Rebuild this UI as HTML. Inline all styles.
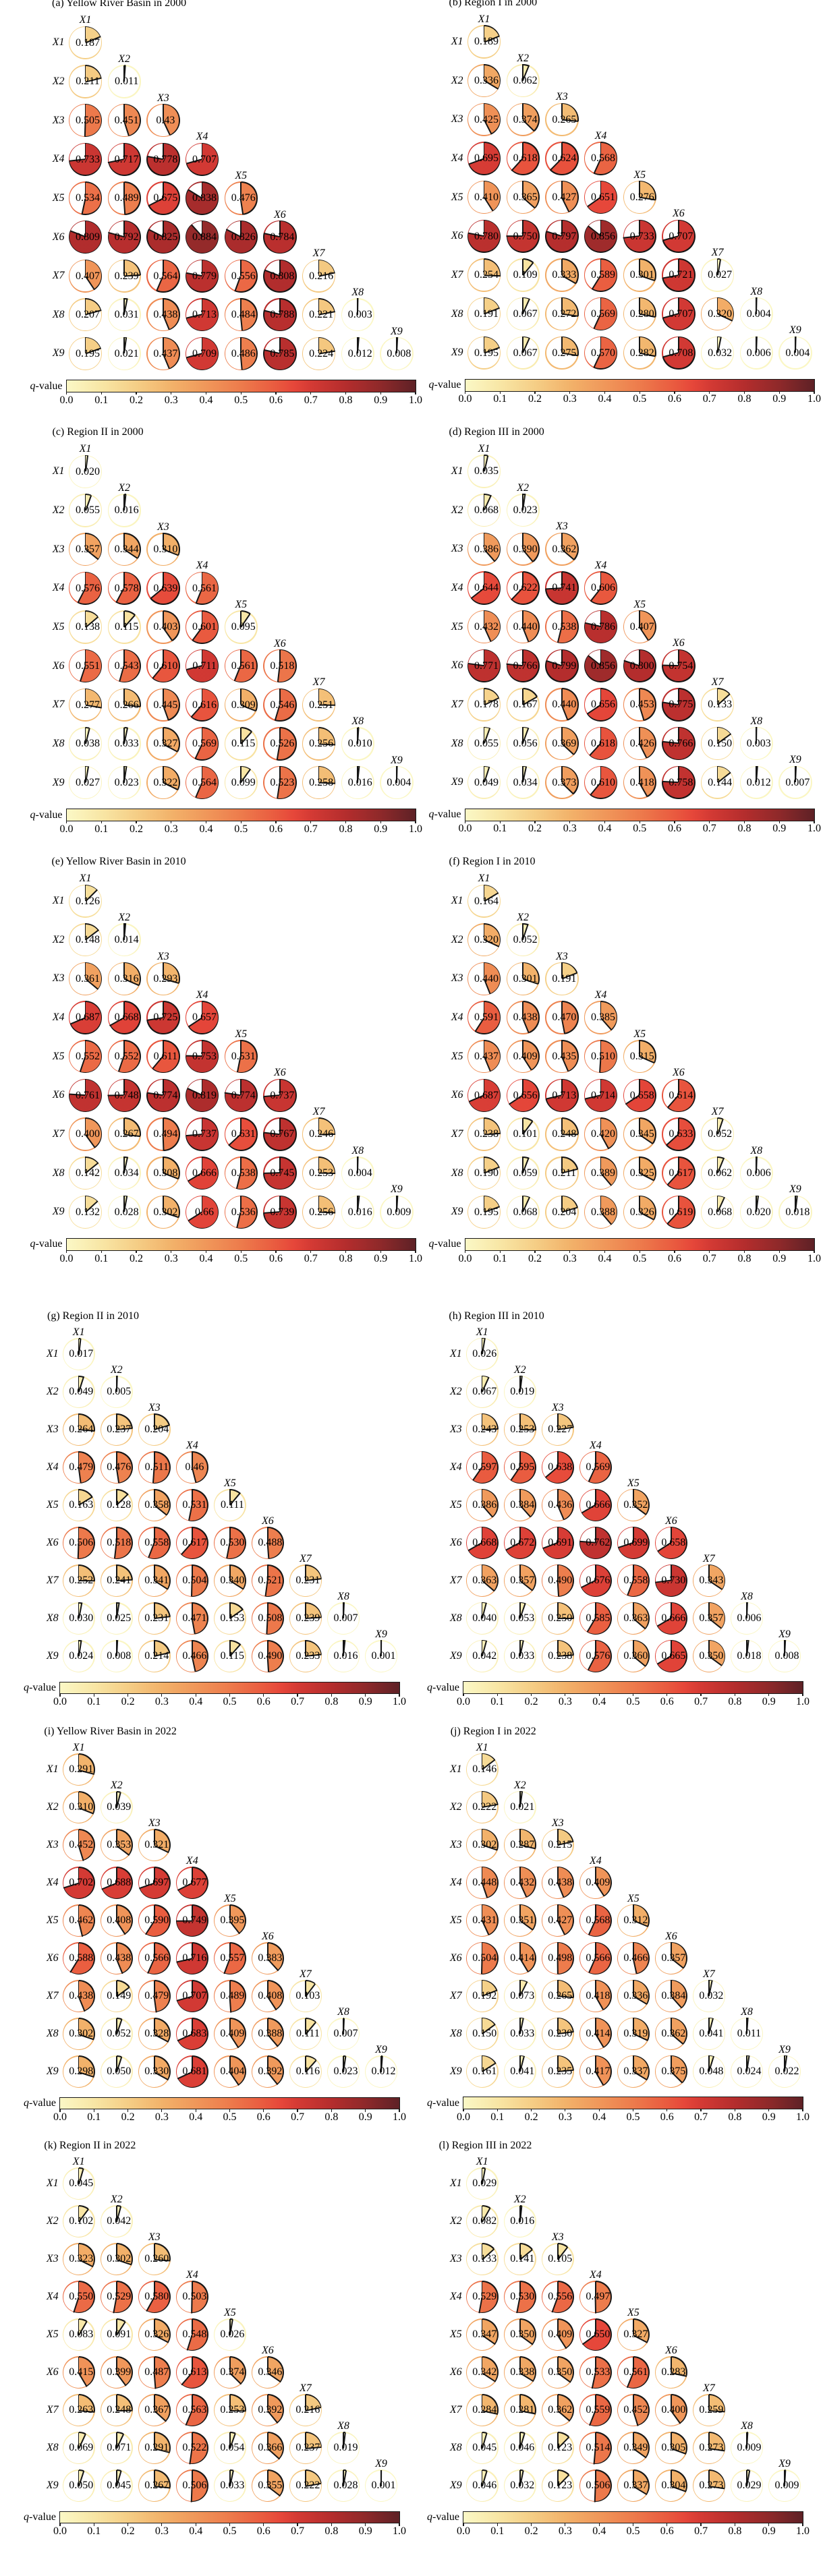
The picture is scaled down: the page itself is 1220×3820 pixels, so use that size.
<!DOCTYPE html>
<html><head><meta charset="utf-8"><title>q-value interaction matrices</title>
<style>
*{margin:0;padding:0}
html,body{width:1220px;height:3820px;background:#fff;overflow:hidden}
body{position:relative;font-family:"Liberation Serif","DejaVu Serif",serif;font-size:16px;color:#000;
--cm:linear-gradient(90deg,#fbf8c6 0%,#f8e6a5 10%,#f5ce86 20%,#f2b26a 30%,#f0975a 40%,#ed7b4c 50%,#e95a3f 60%,#e6473a 65%,#d43a34 70%,#b42d2d 80%,#8e292a 90%,#5e2126 100%)}
.p{position:absolute;width:0;height:0}
.T{--x0:126.5px;--dx:57.68px;--dy:57.65px;--r:24.65px;--lx:86.6px;--cbl:97.5px;--cbw:519.5px;--cbt:500px;--cbh:18.5px}
.B{--x0:116.7px;--dx:56.04px;--dy:56px;--r:24.1px;--lx:77.8px;--cbl:88px;--cbw:505px;--cbt:485.3px;--cbh:18.4px}
.t{position:absolute;top:-67px;line-height:18px;white-space:nowrap}
.B .t{top:-65.4px}
.rl{position:absolute;left:calc(var(--lx) - 15px);width:30px;text-align:center;top:calc(var(--i)*var(--dy) - 9px);line-height:18px;font-style:italic}
.c{position:absolute;left:calc(var(--x0) + var(--j)*var(--dx) - var(--r));top:calc(var(--i)*var(--dy) - var(--r));width:calc(2*var(--r));height:calc(2*var(--r));border-radius:50%;--a:calc(var(--v)*360deg);background:conic-gradient(#151515 0 var(--a),transparent 0),var(--cm);background-size:100% 100%,40000% 100%;background-position:0 0,calc(var(--v)*100%) 0;background-repeat:no-repeat}
.c::before{content:"";position:absolute;left:1.5px;top:1.5px;right:1.5px;bottom:1.5px;border-radius:50%;background:conic-gradient(transparent 0 var(--a),#fff 0),var(--cm);background-size:100% 100%,40000% 100%;background-position:0 0,calc(var(--v)*100%) 0;background-repeat:no-repeat}
.c::after{content:"";position:absolute;left:calc(50% - .8px);top:.3px;width:1.6px;height:calc(50% - .3px);background:#151515}
.c i{position:absolute;left:calc(50% - .8px);top:.3px;width:1.6px;height:calc(50% - .3px);background:#151515;transform-origin:50% 100%;transform:rotate(var(--a))}
.c span{position:absolute;left:3.5px;top:0;width:100%;text-align:center;line-height:calc(2*var(--r));z-index:2;white-space:nowrap}
.c em{position:absolute;left:0;width:100%;top:-17.3px;line-height:18px;text-align:center;font-style:italic}
.r>div:nth-of-type(1){--j:0}.r>div:nth-of-type(2){--j:1}.r>div:nth-of-type(3){--j:2}.r>div:nth-of-type(4){--j:3}.r>div:nth-of-type(5){--j:4}.r>div:nth-of-type(6){--j:5}.r>div:nth-of-type(7){--j:6}.r>div:nth-of-type(8){--j:7}.r>div:nth-of-type(9){--j:8}
.cb{position:absolute;left:var(--cbl);top:var(--cbt);width:var(--cbw);height:var(--cbh);box-sizing:border-box;border:1.4px solid #1a1a1a;background:var(--cm)}
.cb u{position:absolute;top:20.4px;width:40px;margin-left:-20px;left:calc(var(--k)*10%);text-align:center;line-height:18px;text-decoration:none}
.cb u::before{content:"";position:absolute;left:calc(50% - .6px);top:calc(var(--cbh) - 21.8px);width:1.2px;height:4px;background:#1a1a1a}
.cb u:nth-of-type(1){--k:0}.cb u:nth-of-type(2){--k:1}.cb u:nth-of-type(3){--k:2}.cb u:nth-of-type(4){--k:3}.cb u:nth-of-type(5){--k:4}.cb u:nth-of-type(6){--k:5}.cb u:nth-of-type(7){--k:6}.cb u:nth-of-type(8){--k:7}.cb u:nth-of-type(9){--k:8}.cb u:nth-of-type(10){--k:9}.cb u:nth-of-type(11){--k:10}
.ql{position:absolute;left:calc(var(--cbl) - 55px);width:50px;text-align:right;top:calc(var(--cbt) + var(--cbh)/2 - 9px);line-height:18px;white-space:nowrap}
</style></head><body>

<!-- (a) -->
<div class="p T" style="left:0;top:63.3px">
<div class="t" style="left:77px">(a) Yellow River Basin in 2000</div>
<div class="r" style="--i:0"><em class="rl">X1</em><div class="c" style="--v:.187"><i></i><span>0.187</span><em>X1</em></div></div>
<div class="r" style="--i:1"><em class="rl">X2</em><div class="c" style="--v:.211"><i></i><span>0.211</span></div><div class="c" style="--v:.011"><i></i><span>0.011</span><em>X2</em></div></div>
<div class="r" style="--i:2"><em class="rl">X3</em><div class="c" style="--v:.505"><i></i><span>0.505</span></div><div class="c" style="--v:.451"><i></i><span>0.451</span></div><div class="c" style="--v:.43"><i></i><span>0.43</span><em>X3</em></div></div>
<div class="r" style="--i:3"><em class="rl">X4</em><div class="c" style="--v:.733"><i></i><span>0.733</span></div><div class="c" style="--v:.717"><i></i><span>0.717</span></div><div class="c" style="--v:.778"><i></i><span>0.778</span></div><div class="c" style="--v:.707"><i></i><span>0.707</span><em>X4</em></div></div>
<div class="r" style="--i:4"><em class="rl">X5</em><div class="c" style="--v:.534"><i></i><span>0.534</span></div><div class="c" style="--v:.489"><i></i><span>0.489</span></div><div class="c" style="--v:.675"><i></i><span>0.675</span></div><div class="c" style="--v:.838"><i></i><span>0.838</span></div><div class="c" style="--v:.476"><i></i><span>0.476</span><em>X5</em></div></div>
<div class="r" style="--i:5"><em class="rl">X6</em><div class="c" style="--v:.809"><i></i><span>0.809</span></div><div class="c" style="--v:.792"><i></i><span>0.792</span></div><div class="c" style="--v:.825"><i></i><span>0.825</span></div><div class="c" style="--v:.884"><i></i><span>0.884</span></div><div class="c" style="--v:.826"><i></i><span>0.826</span></div><div class="c" style="--v:.784"><i></i><span>0.784</span><em>X6</em></div></div>
<div class="r" style="--i:6"><em class="rl">X7</em><div class="c" style="--v:.407"><i></i><span>0.407</span></div><div class="c" style="--v:.239"><i></i><span>0.239</span></div><div class="c" style="--v:.564"><i></i><span>0.564</span></div><div class="c" style="--v:.779"><i></i><span>0.779</span></div><div class="c" style="--v:.556"><i></i><span>0.556</span></div><div class="c" style="--v:.808"><i></i><span>0.808</span></div><div class="c" style="--v:.216"><i></i><span>0.216</span><em>X7</em></div></div>
<div class="r" style="--i:7"><em class="rl">X8</em><div class="c" style="--v:.207"><i></i><span>0.207</span></div><div class="c" style="--v:.031"><i></i><span>0.031</span></div><div class="c" style="--v:.438"><i></i><span>0.438</span></div><div class="c" style="--v:.713"><i></i><span>0.713</span></div><div class="c" style="--v:.484"><i></i><span>0.484</span></div><div class="c" style="--v:.788"><i></i><span>0.788</span></div><div class="c" style="--v:.221"><i></i><span>0.221</span></div><div class="c" style="--v:.003"><i></i><span>0.003</span><em>X8</em></div></div>
<div class="r" style="--i:8"><em class="rl">X9</em><div class="c" style="--v:.195"><i></i><span>0.195</span></div><div class="c" style="--v:.021"><i></i><span>0.021</span></div><div class="c" style="--v:.437"><i></i><span>0.437</span></div><div class="c" style="--v:.709"><i></i><span>0.709</span></div><div class="c" style="--v:.486"><i></i><span>0.486</span></div><div class="c" style="--v:.785"><i></i><span>0.785</span></div><div class="c" style="--v:.224"><i></i><span>0.224</span></div><div class="c" style="--v:.012"><i></i><span>0.012</span></div><div class="c" style="--v:.008"><i></i><span>0.008</span><em>X9</em></div></div>
<div class="ql"><i>q</i>-value</div>
<div class="cb"><u>0.0</u><u>0.1</u><u>0.2</u><u>0.3</u><u>0.4</u><u>0.5</u><u>0.6</u><u>0.7</u><u>0.8</u><u>0.9</u><u>1.0</u></div>
</div>

<!-- (b) -->
<div class="p T" style="left:591px;top:62px">
<div class="t" style="left:74.5px">(b) Region I in 2000</div>
<div class="r" style="--i:0"><em class="rl">X1</em><div class="c" style="--v:.189"><i></i><span>0.189</span><em>X1</em></div></div>
<div class="r" style="--i:1"><em class="rl">X2</em><div class="c" style="--v:.336"><i></i><span>0.336</span></div><div class="c" style="--v:.062"><i></i><span>0.062</span><em>X2</em></div></div>
<div class="r" style="--i:2"><em class="rl">X3</em><div class="c" style="--v:.425"><i></i><span>0.425</span></div><div class="c" style="--v:.374"><i></i><span>0.374</span></div><div class="c" style="--v:.265"><i></i><span>0.265</span><em>X3</em></div></div>
<div class="r" style="--i:3"><em class="rl">X4</em><div class="c" style="--v:.695"><i></i><span>0.695</span></div><div class="c" style="--v:.618"><i></i><span>0.618</span></div><div class="c" style="--v:.624"><i></i><span>0.624</span></div><div class="c" style="--v:.568"><i></i><span>0.568</span><em>X4</em></div></div>
<div class="r" style="--i:4"><em class="rl">X5</em><div class="c" style="--v:.410"><i></i><span>0.410</span></div><div class="c" style="--v:.365"><i></i><span>0.365</span></div><div class="c" style="--v:.427"><i></i><span>0.427</span></div><div class="c" style="--v:.651"><i></i><span>0.651</span></div><div class="c" style="--v:.276"><i></i><span>0.276</span><em>X5</em></div></div>
<div class="r" style="--i:5"><em class="rl">X6</em><div class="c" style="--v:.780"><i></i><span>0.780</span></div><div class="c" style="--v:.750"><i></i><span>0.750</span></div><div class="c" style="--v:.797"><i></i><span>0.797</span></div><div class="c" style="--v:.856"><i></i><span>0.856</span></div><div class="c" style="--v:.733"><i></i><span>0.733</span></div><div class="c" style="--v:.707"><i></i><span>0.707</span><em>X6</em></div></div>
<div class="r" style="--i:6"><em class="rl">X7</em><div class="c" style="--v:.254"><i></i><span>0.254</span></div><div class="c" style="--v:.109"><i></i><span>0.109</span></div><div class="c" style="--v:.333"><i></i><span>0.333</span></div><div class="c" style="--v:.589"><i></i><span>0.589</span></div><div class="c" style="--v:.301"><i></i><span>0.301</span></div><div class="c" style="--v:.721"><i></i><span>0.721</span></div><div class="c" style="--v:.027"><i></i><span>0.027</span><em>X7</em></div></div>
<div class="r" style="--i:7"><em class="rl">X8</em><div class="c" style="--v:.191"><i></i><span>0.191</span></div><div class="c" style="--v:.067"><i></i><span>0.067</span></div><div class="c" style="--v:.272"><i></i><span>0.272</span></div><div class="c" style="--v:.569"><i></i><span>0.569</span></div><div class="c" style="--v:.280"><i></i><span>0.280</span></div><div class="c" style="--v:.707"><i></i><span>0.707</span></div><div class="c" style="--v:.320"><i></i><span>0.320</span></div><div class="c" style="--v:.004"><i></i><span>0.004</span><em>X8</em></div></div>
<div class="r" style="--i:8"><em class="rl">X9</em><div class="c" style="--v:.195"><i></i><span>0.195</span></div><div class="c" style="--v:.067"><i></i><span>0.067</span></div><div class="c" style="--v:.275"><i></i><span>0.275</span></div><div class="c" style="--v:.570"><i></i><span>0.570</span></div><div class="c" style="--v:.282"><i></i><span>0.282</span></div><div class="c" style="--v:.708"><i></i><span>0.708</span></div><div class="c" style="--v:.032"><i></i><span>0.032</span></div><div class="c" style="--v:.006"><i></i><span>0.006</span></div><div class="c" style="--v:.004"><i></i><span>0.004</span><em>X9</em></div></div>
<div class="ql"><i>q</i>-value</div>
<div class="cb"><u>0.0</u><u>0.1</u><u>0.2</u><u>0.3</u><u>0.4</u><u>0.5</u><u>0.6</u><u>0.7</u><u>0.8</u><u>0.9</u><u>1.0</u></div>
</div>

<!-- (c) -->
<div class="p T" style="left:0;top:699.4px">
<div class="t" style="left:77.5px">(c) Region II in 2000</div>
<div class="r" style="--i:0"><em class="rl">X1</em><div class="c" style="--v:.020"><i></i><span>0.020</span><em>X1</em></div></div>
<div class="r" style="--i:1"><em class="rl">X2</em><div class="c" style="--v:.055"><i></i><span>0.055</span></div><div class="c" style="--v:.016"><i></i><span>0.016</span><em>X2</em></div></div>
<div class="r" style="--i:2"><em class="rl">X3</em><div class="c" style="--v:.357"><i></i><span>0.357</span></div><div class="c" style="--v:.344"><i></i><span>0.344</span></div><div class="c" style="--v:.310"><i></i><span>0.310</span><em>X3</em></div></div>
<div class="r" style="--i:3"><em class="rl">X4</em><div class="c" style="--v:.576"><i></i><span>0.576</span></div><div class="c" style="--v:.578"><i></i><span>0.578</span></div><div class="c" style="--v:.639"><i></i><span>0.639</span></div><div class="c" style="--v:.561"><i></i><span>0.561</span><em>X4</em></div></div>
<div class="r" style="--i:4"><em class="rl">X5</em><div class="c" style="--v:.138"><i></i><span>0.138</span></div><div class="c" style="--v:.115"><i></i><span>0.115</span></div><div class="c" style="--v:.403"><i></i><span>0.403</span></div><div class="c" style="--v:.601"><i></i><span>0.601</span></div><div class="c" style="--v:.095"><i></i><span>0.095</span><em>X5</em></div></div>
<div class="r" style="--i:5"><em class="rl">X6</em><div class="c" style="--v:.551"><i></i><span>0.551</span></div><div class="c" style="--v:.543"><i></i><span>0.543</span></div><div class="c" style="--v:.610"><i></i><span>0.610</span></div><div class="c" style="--v:.711"><i></i><span>0.711</span></div><div class="c" style="--v:.561"><i></i><span>0.561</span></div><div class="c" style="--v:.518"><i></i><span>0.518</span><em>X6</em></div></div>
<div class="r" style="--i:6"><em class="rl">X7</em><div class="c" style="--v:.277"><i></i><span>0.277</span></div><div class="c" style="--v:.266"><i></i><span>0.266</span></div><div class="c" style="--v:.445"><i></i><span>0.445</span></div><div class="c" style="--v:.616"><i></i><span>0.616</span></div><div class="c" style="--v:.309"><i></i><span>0.309</span></div><div class="c" style="--v:.546"><i></i><span>0.546</span></div><div class="c" style="--v:.251"><i></i><span>0.251</span><em>X7</em></div></div>
<div class="r" style="--i:7"><em class="rl">X8</em><div class="c" style="--v:.038"><i></i><span>0.038</span></div><div class="c" style="--v:.033"><i></i><span>0.033</span></div><div class="c" style="--v:.327"><i></i><span>0.327</span></div><div class="c" style="--v:.569"><i></i><span>0.569</span></div><div class="c" style="--v:.115"><i></i><span>0.115</span></div><div class="c" style="--v:.526"><i></i><span>0.526</span></div><div class="c" style="--v:.256"><i></i><span>0.256</span></div><div class="c" style="--v:.010"><i></i><span>0.010</span><em>X8</em></div></div>
<div class="r" style="--i:8"><em class="rl">X9</em><div class="c" style="--v:.027"><i></i><span>0.027</span></div><div class="c" style="--v:.023"><i></i><span>0.023</span></div><div class="c" style="--v:.322"><i></i><span>0.322</span></div><div class="c" style="--v:.564"><i></i><span>0.564</span></div><div class="c" style="--v:.099"><i></i><span>0.099</span></div><div class="c" style="--v:.523"><i></i><span>0.523</span></div><div class="c" style="--v:.258"><i></i><span>0.258</span></div><div class="c" style="--v:.016"><i></i><span>0.016</span></div><div class="c" style="--v:.004"><i></i><span>0.004</span><em>X9</em></div></div>
<div class="ql"><i>q</i>-value</div>
<div class="cb"><u>0.0</u><u>0.1</u><u>0.2</u><u>0.3</u><u>0.4</u><u>0.5</u><u>0.6</u><u>0.7</u><u>0.8</u><u>0.9</u><u>1.0</u></div>
</div>

<!-- (d) -->
<div class="p T" style="left:591px;top:699px">
<div class="t" style="left:74.5px">(d) Region III in 2000</div>
<div class="r" style="--i:0"><em class="rl">X1</em><div class="c" style="--v:.035"><i></i><span>0.035</span><em>X1</em></div></div>
<div class="r" style="--i:1"><em class="rl">X2</em><div class="c" style="--v:.068"><i></i><span>0.068</span></div><div class="c" style="--v:.023"><i></i><span>0.023</span><em>X2</em></div></div>
<div class="r" style="--i:2"><em class="rl">X3</em><div class="c" style="--v:.386"><i></i><span>0.386</span></div><div class="c" style="--v:.390"><i></i><span>0.390</span></div><div class="c" style="--v:.362"><i></i><span>0.362</span><em>X3</em></div></div>
<div class="r" style="--i:3"><em class="rl">X4</em><div class="c" style="--v:.644"><i></i><span>0.644</span></div><div class="c" style="--v:.622"><i></i><span>0.622</span></div><div class="c" style="--v:.741"><i></i><span>0.741</span></div><div class="c" style="--v:.606"><i></i><span>0.606</span><em>X4</em></div></div>
<div class="r" style="--i:4"><em class="rl">X5</em><div class="c" style="--v:.432"><i></i><span>0.432</span></div><div class="c" style="--v:.440"><i></i><span>0.440</span></div><div class="c" style="--v:.538"><i></i><span>0.538</span></div><div class="c" style="--v:.786"><i></i><span>0.786</span></div><div class="c" style="--v:.407"><i></i><span>0.407</span><em>X5</em></div></div>
<div class="r" style="--i:5"><em class="rl">X6</em><div class="c" style="--v:.771"><i></i><span>0.771</span></div><div class="c" style="--v:.766"><i></i><span>0.766</span></div><div class="c" style="--v:.799"><i></i><span>0.799</span></div><div class="c" style="--v:.856"><i></i><span>0.856</span></div><div class="c" style="--v:.800"><i></i><span>0.800</span></div><div class="c" style="--v:.754"><i></i><span>0.754</span><em>X6</em></div></div>
<div class="r" style="--i:6"><em class="rl">X7</em><div class="c" style="--v:.178"><i></i><span>0.178</span></div><div class="c" style="--v:.167"><i></i><span>0.167</span></div><div class="c" style="--v:.440"><i></i><span>0.440</span></div><div class="c" style="--v:.656"><i></i><span>0.656</span></div><div class="c" style="--v:.453"><i></i><span>0.453</span></div><div class="c" style="--v:.775"><i></i><span>0.775</span></div><div class="c" style="--v:.133"><i></i><span>0.133</span><em>X7</em></div></div>
<div class="r" style="--i:7"><em class="rl">X8</em><div class="c" style="--v:.055"><i></i><span>0.055</span></div><div class="c" style="--v:.056"><i></i><span>0.056</span></div><div class="c" style="--v:.369"><i></i><span>0.369</span></div><div class="c" style="--v:.618"><i></i><span>0.618</span></div><div class="c" style="--v:.426"><i></i><span>0.426</span></div><div class="c" style="--v:.766"><i></i><span>0.766</span></div><div class="c" style="--v:.150"><i></i><span>0.150</span></div><div class="c" style="--v:.003"><i></i><span>0.003</span><em>X8</em></div></div>
<div class="r" style="--i:8"><em class="rl">X9</em><div class="c" style="--v:.049"><i></i><span>0.049</span></div><div class="c" style="--v:.034"><i></i><span>0.034</span></div><div class="c" style="--v:.373"><i></i><span>0.373</span></div><div class="c" style="--v:.610"><i></i><span>0.610</span></div><div class="c" style="--v:.418"><i></i><span>0.418</span></div><div class="c" style="--v:.758"><i></i><span>0.758</span></div><div class="c" style="--v:.144"><i></i><span>0.144</span></div><div class="c" style="--v:.012"><i></i><span>0.012</span></div><div class="c" style="--v:.007"><i></i><span>0.007</span><em>X9</em></div></div>
<div class="ql"><i>q</i>-value</div>
<div class="cb"><u>0.0</u><u>0.1</u><u>0.2</u><u>0.3</u><u>0.4</u><u>0.5</u><u>0.6</u><u>0.7</u><u>0.8</u><u>0.9</u><u>1.0</u></div>
</div>

<!-- (e) -->
<div class="p T" style="left:0;top:1336.2px">
<div class="t" style="left:76.5px">(e) Yellow River Basin in 2010</div>
<div class="r" style="--i:0"><em class="rl">X1</em><div class="c" style="--v:.126"><i></i><span>0.126</span><em>X1</em></div></div>
<div class="r" style="--i:1"><em class="rl">X2</em><div class="c" style="--v:.148"><i></i><span>0.148</span></div><div class="c" style="--v:.014"><i></i><span>0.014</span><em>X2</em></div></div>
<div class="r" style="--i:2"><em class="rl">X3</em><div class="c" style="--v:.361"><i></i><span>0.361</span></div><div class="c" style="--v:.316"><i></i><span>0.316</span></div><div class="c" style="--v:.293"><i></i><span>0.293</span><em>X3</em></div></div>
<div class="r" style="--i:3"><em class="rl">X4</em><div class="c" style="--v:.687"><i></i><span>0.687</span></div><div class="c" style="--v:.668"><i></i><span>0.668</span></div><div class="c" style="--v:.725"><i></i><span>0.725</span></div><div class="c" style="--v:.657"><i></i><span>0.657</span><em>X4</em></div></div>
<div class="r" style="--i:4"><em class="rl">X5</em><div class="c" style="--v:.552"><i></i><span>0.552</span></div><div class="c" style="--v:.552"><i></i><span>0.552</span></div><div class="c" style="--v:.611"><i></i><span>0.611</span></div><div class="c" style="--v:.753"><i></i><span>0.753</span></div><div class="c" style="--v:.531"><i></i><span>0.531</span><em>X5</em></div></div>
<div class="r" style="--i:5"><em class="rl">X6</em><div class="c" style="--v:.761"><i></i><span>0.761</span></div><div class="c" style="--v:.748"><i></i><span>0.748</span></div><div class="c" style="--v:.774"><i></i><span>0.774</span></div><div class="c" style="--v:.819"><i></i><span>0.819</span></div><div class="c" style="--v:.774"><i></i><span>0.774</span></div><div class="c" style="--v:.737"><i></i><span>0.737</span><em>X6</em></div></div>
<div class="r" style="--i:6"><em class="rl">X7</em><div class="c" style="--v:.400"><i></i><span>0.400</span></div><div class="c" style="--v:.267"><i></i><span>0.267</span></div><div class="c" style="--v:.494"><i></i><span>0.494</span></div><div class="c" style="--v:.737"><i></i><span>0.737</span></div><div class="c" style="--v:.631"><i></i><span>0.631</span></div><div class="c" style="--v:.767"><i></i><span>0.767</span></div><div class="c" style="--v:.246"><i></i><span>0.246</span><em>X7</em></div></div>
<div class="r" style="--i:7"><em class="rl">X8</em><div class="c" style="--v:.142"><i></i><span>0.142</span></div><div class="c" style="--v:.034"><i></i><span>0.034</span></div><div class="c" style="--v:.308"><i></i><span>0.308</span></div><div class="c" style="--v:.666"><i></i><span>0.666</span></div><div class="c" style="--v:.538"><i></i><span>0.538</span></div><div class="c" style="--v:.745"><i></i><span>0.745</span></div><div class="c" style="--v:.253"><i></i><span>0.253</span></div><div class="c" style="--v:.004"><i></i><span>0.004</span><em>X8</em></div></div>
<div class="r" style="--i:8"><em class="rl">X9</em><div class="c" style="--v:.132"><i></i><span>0.132</span></div><div class="c" style="--v:.028"><i></i><span>0.028</span></div><div class="c" style="--v:.302"><i></i><span>0.302</span></div><div class="c" style="--v:.66"><i></i><span>0.66</span></div><div class="c" style="--v:.536"><i></i><span>0.536</span></div><div class="c" style="--v:.739"><i></i><span>0.739</span></div><div class="c" style="--v:.256"><i></i><span>0.256</span></div><div class="c" style="--v:.016"><i></i><span>0.016</span></div><div class="c" style="--v:.009"><i></i><span>0.009</span><em>X9</em></div></div>
<div class="ql"><i>q</i>-value</div>
<div class="cb"><u>0.0</u><u>0.1</u><u>0.2</u><u>0.3</u><u>0.4</u><u>0.5</u><u>0.6</u><u>0.7</u><u>0.8</u><u>0.9</u><u>1.0</u></div>
</div>

<!-- (f) -->
<div class="p T" style="left:591px;top:1336.2px">
<div class="t" style="left:74.5px">(f) Region I in 2010</div>
<div class="r" style="--i:0"><em class="rl">X1</em><div class="c" style="--v:.164"><i></i><span>0.164</span><em>X1</em></div></div>
<div class="r" style="--i:1"><em class="rl">X2</em><div class="c" style="--v:.320"><i></i><span>0.320</span></div><div class="c" style="--v:.052"><i></i><span>0.052</span><em>X2</em></div></div>
<div class="r" style="--i:2"><em class="rl">X3</em><div class="c" style="--v:.440"><i></i><span>0.440</span></div><div class="c" style="--v:.301"><i></i><span>0.301</span></div><div class="c" style="--v:.191"><i></i><span>0.191</span><em>X3</em></div></div>
<div class="r" style="--i:3"><em class="rl">X4</em><div class="c" style="--v:.591"><i></i><span>0.591</span></div><div class="c" style="--v:.438"><i></i><span>0.438</span></div><div class="c" style="--v:.470"><i></i><span>0.470</span></div><div class="c" style="--v:.385"><i></i><span>0.385</span><em>X4</em></div></div>
<div class="r" style="--i:4"><em class="rl">X5</em><div class="c" style="--v:.437"><i></i><span>0.437</span></div><div class="c" style="--v:.409"><i></i><span>0.409</span></div><div class="c" style="--v:.435"><i></i><span>0.435</span></div><div class="c" style="--v:.510"><i></i><span>0.510</span></div><div class="c" style="--v:.315"><i></i><span>0.315</span><em>X5</em></div></div>
<div class="r" style="--i:5"><em class="rl">X6</em><div class="c" style="--v:.687"><i></i><span>0.687</span></div><div class="c" style="--v:.656"><i></i><span>0.656</span></div><div class="c" style="--v:.713"><i></i><span>0.713</span></div><div class="c" style="--v:.714"><i></i><span>0.714</span></div><div class="c" style="--v:.658"><i></i><span>0.658</span></div><div class="c" style="--v:.614"><i></i><span>0.614</span><em>X6</em></div></div>
<div class="r" style="--i:6"><em class="rl">X7</em><div class="c" style="--v:.238"><i></i><span>0.238</span></div><div class="c" style="--v:.101"><i></i><span>0.101</span></div><div class="c" style="--v:.248"><i></i><span>0.248</span></div><div class="c" style="--v:.420"><i></i><span>0.420</span></div><div class="c" style="--v:.345"><i></i><span>0.345</span></div><div class="c" style="--v:.633"><i></i><span>0.633</span></div><div class="c" style="--v:.052"><i></i><span>0.052</span><em>X7</em></div></div>
<div class="r" style="--i:7"><em class="rl">X8</em><div class="c" style="--v:.190"><i></i><span>0.190</span></div><div class="c" style="--v:.059"><i></i><span>0.059</span></div><div class="c" style="--v:.211"><i></i><span>0.211</span></div><div class="c" style="--v:.389"><i></i><span>0.389</span></div><div class="c" style="--v:.325"><i></i><span>0.325</span></div><div class="c" style="--v:.617"><i></i><span>0.617</span></div><div class="c" style="--v:.062"><i></i><span>0.062</span></div><div class="c" style="--v:.006"><i></i><span>0.006</span><em>X8</em></div></div>
<div class="r" style="--i:8"><em class="rl">X9</em><div class="c" style="--v:.195"><i></i><span>0.195</span></div><div class="c" style="--v:.068"><i></i><span>0.068</span></div><div class="c" style="--v:.204"><i></i><span>0.204</span></div><div class="c" style="--v:.388"><i></i><span>0.388</span></div><div class="c" style="--v:.326"><i></i><span>0.326</span></div><div class="c" style="--v:.619"><i></i><span>0.619</span></div><div class="c" style="--v:.068"><i></i><span>0.068</span></div><div class="c" style="--v:.020"><i></i><span>0.020</span></div><div class="c" style="--v:.018"><i></i><span>0.018</span><em>X9</em></div></div>
<div class="ql"><i>q</i>-value</div>
<div class="cb"><u>0.0</u><u>0.1</u><u>0.2</u><u>0.3</u><u>0.4</u><u>0.5</u><u>0.6</u><u>0.7</u><u>0.8</u><u>0.9</u><u>1.0</u></div>
</div>

<!-- (g) -->
<div class="p B" style="left:0;top:2008.3px">
<div class="t" style="left:70px">(g) Region II in 2010</div>
<div class="r" style="--i:0"><em class="rl">X1</em><div class="c" style="--v:.017"><i></i><span>0.017</span><em>X1</em></div></div>
<div class="r" style="--i:1"><em class="rl">X2</em><div class="c" style="--v:.049"><i></i><span>0.049</span></div><div class="c" style="--v:.005"><i></i><span>0.005</span><em>X2</em></div></div>
<div class="r" style="--i:2"><em class="rl">X3</em><div class="c" style="--v:.264"><i></i><span>0.264</span></div><div class="c" style="--v:.237"><i></i><span>0.237</span></div><div class="c" style="--v:.204"><i></i><span>0.204</span><em>X3</em></div></div>
<div class="r" style="--i:3"><em class="rl">X4</em><div class="c" style="--v:.479"><i></i><span>0.479</span></div><div class="c" style="--v:.476"><i></i><span>0.476</span></div><div class="c" style="--v:.511"><i></i><span>0.511</span></div><div class="c" style="--v:.46"><i></i><span>0.46</span><em>X4</em></div></div>
<div class="r" style="--i:4"><em class="rl">X5</em><div class="c" style="--v:.163"><i></i><span>0.163</span></div><div class="c" style="--v:.128"><i></i><span>0.128</span></div><div class="c" style="--v:.358"><i></i><span>0.358</span></div><div class="c" style="--v:.531"><i></i><span>0.531</span></div><div class="c" style="--v:.111"><i></i><span>0.111</span><em>X5</em></div></div>
<div class="r" style="--i:5"><em class="rl">X6</em><div class="c" style="--v:.506"><i></i><span>0.506</span></div><div class="c" style="--v:.518"><i></i><span>0.518</span></div><div class="c" style="--v:.558"><i></i><span>0.558</span></div><div class="c" style="--v:.617"><i></i><span>0.617</span></div><div class="c" style="--v:.530"><i></i><span>0.530</span></div><div class="c" style="--v:.488"><i></i><span>0.488</span><em>X6</em></div></div>
<div class="r" style="--i:6"><em class="rl">X7</em><div class="c" style="--v:.252"><i></i><span>0.252</span></div><div class="c" style="--v:.241"><i></i><span>0.241</span></div><div class="c" style="--v:.341"><i></i><span>0.341</span></div><div class="c" style="--v:.504"><i></i><span>0.504</span></div><div class="c" style="--v:.340"><i></i><span>0.340</span></div><div class="c" style="--v:.521"><i></i><span>0.521</span></div><div class="c" style="--v:.231"><i></i><span>0.231</span><em>X7</em></div></div>
<div class="r" style="--i:7"><em class="rl">X8</em><div class="c" style="--v:.030"><i></i><span>0.030</span></div><div class="c" style="--v:.025"><i></i><span>0.025</span></div><div class="c" style="--v:.231"><i></i><span>0.231</span></div><div class="c" style="--v:.471"><i></i><span>0.471</span></div><div class="c" style="--v:.153"><i></i><span>0.153</span></div><div class="c" style="--v:.508"><i></i><span>0.508</span></div><div class="c" style="--v:.239"><i></i><span>0.239</span></div><div class="c" style="--v:.007"><i></i><span>0.007</span><em>X8</em></div></div>
<div class="r" style="--i:8"><em class="rl">X9</em><div class="c" style="--v:.024"><i></i><span>0.024</span></div><div class="c" style="--v:.008"><i></i><span>0.008</span></div><div class="c" style="--v:.214"><i></i><span>0.214</span></div><div class="c" style="--v:.466"><i></i><span>0.466</span></div><div class="c" style="--v:.115"><i></i><span>0.115</span></div><div class="c" style="--v:.490"><i></i><span>0.490</span></div><div class="c" style="--v:.233"><i></i><span>0.233</span></div><div class="c" style="--v:.016"><i></i><span>0.016</span></div><div class="c" style="--v:.001"><i></i><span>0.001</span><em>X9</em></div></div>
<div class="ql"><i>q</i>-value</div>
<div class="cb"><u>0.0</u><u>0.1</u><u>0.2</u><u>0.3</u><u>0.4</u><u>0.5</u><u>0.6</u><u>0.7</u><u>0.8</u><u>0.9</u><u>1.0</u></div>
</div>

<!-- (h) -->
<div class="p B" style="left:598px;top:2008px">
<div class="t" style="left:67.4px">(h) Region III in 2010</div>
<div class="r" style="--i:0"><em class="rl">X1</em><div class="c" style="--v:.026"><i></i><span>0.026</span><em>X1</em></div></div>
<div class="r" style="--i:1"><em class="rl">X2</em><div class="c" style="--v:.067"><i></i><span>0.067</span></div><div class="c" style="--v:.019"><i></i><span>0.019</span><em>X2</em></div></div>
<div class="r" style="--i:2"><em class="rl">X3</em><div class="c" style="--v:.243"><i></i><span>0.243</span></div><div class="c" style="--v:.253"><i></i><span>0.253</span></div><div class="c" style="--v:.227"><i></i><span>0.227</span><em>X3</em></div></div>
<div class="r" style="--i:3"><em class="rl">X4</em><div class="c" style="--v:.597"><i></i><span>0.597</span></div><div class="c" style="--v:.595"><i></i><span>0.595</span></div><div class="c" style="--v:.638"><i></i><span>0.638</span></div><div class="c" style="--v:.569"><i></i><span>0.569</span><em>X4</em></div></div>
<div class="r" style="--i:4"><em class="rl">X5</em><div class="c" style="--v:.386"><i></i><span>0.386</span></div><div class="c" style="--v:.384"><i></i><span>0.384</span></div><div class="c" style="--v:.436"><i></i><span>0.436</span></div><div class="c" style="--v:.666"><i></i><span>0.666</span></div><div class="c" style="--v:.352"><i></i><span>0.352</span><em>X5</em></div></div>
<div class="r" style="--i:5"><em class="rl">X6</em><div class="c" style="--v:.668"><i></i><span>0.668</span></div><div class="c" style="--v:.672"><i></i><span>0.672</span></div><div class="c" style="--v:.691"><i></i><span>0.691</span></div><div class="c" style="--v:.762"><i></i><span>0.762</span></div><div class="c" style="--v:.699"><i></i><span>0.699</span></div><div class="c" style="--v:.658"><i></i><span>0.658</span><em>X6</em></div></div>
<div class="r" style="--i:6"><em class="rl">X7</em><div class="c" style="--v:.363"><i></i><span>0.363</span></div><div class="c" style="--v:.357"><i></i><span>0.357</span></div><div class="c" style="--v:.490"><i></i><span>0.490</span></div><div class="c" style="--v:.676"><i></i><span>0.676</span></div><div class="c" style="--v:.558"><i></i><span>0.558</span></div><div class="c" style="--v:.730"><i></i><span>0.730</span></div><div class="c" style="--v:.343"><i></i><span>0.343</span><em>X7</em></div></div>
<div class="r" style="--i:7"><em class="rl">X8</em><div class="c" style="--v:.040"><i></i><span>0.040</span></div><div class="c" style="--v:.053"><i></i><span>0.053</span></div><div class="c" style="--v:.250"><i></i><span>0.250</span></div><div class="c" style="--v:.585"><i></i><span>0.585</span></div><div class="c" style="--v:.363"><i></i><span>0.363</span></div><div class="c" style="--v:.666"><i></i><span>0.666</span></div><div class="c" style="--v:.357"><i></i><span>0.357</span></div><div class="c" style="--v:.006"><i></i><span>0.006</span><em>X8</em></div></div>
<div class="r" style="--i:8"><em class="rl">X9</em><div class="c" style="--v:.042"><i></i><span>0.042</span></div><div class="c" style="--v:.033"><i></i><span>0.033</span></div><div class="c" style="--v:.238"><i></i><span>0.238</span></div><div class="c" style="--v:.576"><i></i><span>0.576</span></div><div class="c" style="--v:.360"><i></i><span>0.360</span></div><div class="c" style="--v:.665"><i></i><span>0.665</span></div><div class="c" style="--v:.350"><i></i><span>0.350</span></div><div class="c" style="--v:.018"><i></i><span>0.018</span></div><div class="c" style="--v:.008"><i></i><span>0.008</span><em>X9</em></div></div>
<div class="ql"><i>q</i>-value</div>
<div class="cb"><u>0.0</u><u>0.1</u><u>0.2</u><u>0.3</u><u>0.4</u><u>0.5</u><u>0.6</u><u>0.7</u><u>0.8</u><u>0.9</u><u>1.0</u></div>
</div>

<!-- (i) -->
<div class="p B" style="left:0;top:2624.4px">
<div class="t" style="left:65.4px">(i) Yellow River Basin in 2022</div>
<div class="r" style="--i:0"><em class="rl">X1</em><div class="c" style="--v:.291"><i></i><span>0.291</span><em>X1</em></div></div>
<div class="r" style="--i:1"><em class="rl">X2</em><div class="c" style="--v:.310"><i></i><span>0.310</span></div><div class="c" style="--v:.039"><i></i><span>0.039</span><em>X2</em></div></div>
<div class="r" style="--i:2"><em class="rl">X3</em><div class="c" style="--v:.452"><i></i><span>0.452</span></div><div class="c" style="--v:.353"><i></i><span>0.353</span></div><div class="c" style="--v:.321"><i></i><span>0.321</span><em>X3</em></div></div>
<div class="r" style="--i:3"><em class="rl">X4</em><div class="c" style="--v:.702"><i></i><span>0.702</span></div><div class="c" style="--v:.688"><i></i><span>0.688</span></div><div class="c" style="--v:.697"><i></i><span>0.697</span></div><div class="c" style="--v:.677"><i></i><span>0.677</span><em>X4</em></div></div>
<div class="r" style="--i:4"><em class="rl">X5</em><div class="c" style="--v:.462"><i></i><span>0.462</span></div><div class="c" style="--v:.408"><i></i><span>0.408</span></div><div class="c" style="--v:.590"><i></i><span>0.590</span></div><div class="c" style="--v:.749"><i></i><span>0.749</span></div><div class="c" style="--v:.395"><i></i><span>0.395</span><em>X5</em></div></div>
<div class="r" style="--i:5"><em class="rl">X6</em><div class="c" style="--v:.588"><i></i><span>0.588</span></div><div class="c" style="--v:.438"><i></i><span>0.438</span></div><div class="c" style="--v:.566"><i></i><span>0.566</span></div><div class="c" style="--v:.716"><i></i><span>0.716</span></div><div class="c" style="--v:.557"><i></i><span>0.557</span></div><div class="c" style="--v:.383"><i></i><span>0.383</span><em>X6</em></div></div>
<div class="r" style="--i:6"><em class="rl">X7</em><div class="c" style="--v:.438"><i></i><span>0.438</span></div><div class="c" style="--v:.149"><i></i><span>0.149</span></div><div class="c" style="--v:.479"><i></i><span>0.479</span></div><div class="c" style="--v:.707"><i></i><span>0.707</span></div><div class="c" style="--v:.489"><i></i><span>0.489</span></div><div class="c" style="--v:.408"><i></i><span>0.408</span></div><div class="c" style="--v:.103"><i></i><span>0.103</span><em>X7</em></div></div>
<div class="r" style="--i:7"><em class="rl">X8</em><div class="c" style="--v:.302"><i></i><span>0.302</span></div><div class="c" style="--v:.052"><i></i><span>0.052</span></div><div class="c" style="--v:.328"><i></i><span>0.328</span></div><div class="c" style="--v:.683"><i></i><span>0.683</span></div><div class="c" style="--v:.409"><i></i><span>0.409</span></div><div class="c" style="--v:.388"><i></i><span>0.388</span></div><div class="c" style="--v:.111"><i></i><span>0.111</span></div><div class="c" style="--v:.007"><i></i><span>0.007</span><em>X8</em></div></div>
<div class="r" style="--i:8"><em class="rl">X9</em><div class="c" style="--v:.298"><i></i><span>0.298</span></div><div class="c" style="--v:.050"><i></i><span>0.050</span></div><div class="c" style="--v:.330"><i></i><span>0.330</span></div><div class="c" style="--v:.681"><i></i><span>0.681</span></div><div class="c" style="--v:.404"><i></i><span>0.404</span></div><div class="c" style="--v:.392"><i></i><span>0.392</span></div><div class="c" style="--v:.116"><i></i><span>0.116</span></div><div class="c" style="--v:.023"><i></i><span>0.023</span></div><div class="c" style="--v:.012"><i></i><span>0.012</span><em>X9</em></div></div>
<div class="ql"><i>q</i>-value</div>
<div class="cb"><u>0.0</u><u>0.1</u><u>0.2</u><u>0.3</u><u>0.4</u><u>0.5</u><u>0.6</u><u>0.7</u><u>0.8</u><u>0.9</u><u>1.0</u></div>
</div>

<!-- (j) -->
<div class="p B" style="left:598px;top:2624px">
<div class="t" style="left:69.7px">(j) Region I in 2022</div>
<div class="r" style="--i:0"><em class="rl">X1</em><div class="c" style="--v:.146"><i></i><span>0.146</span><em>X1</em></div></div>
<div class="r" style="--i:1"><em class="rl">X2</em><div class="c" style="--v:.222"><i></i><span>0.222</span></div><div class="c" style="--v:.021"><i></i><span>0.021</span><em>X2</em></div></div>
<div class="r" style="--i:2"><em class="rl">X3</em><div class="c" style="--v:.302"><i></i><span>0.302</span></div><div class="c" style="--v:.287"><i></i><span>0.287</span></div><div class="c" style="--v:.215"><i></i><span>0.215</span><em>X3</em></div></div>
<div class="r" style="--i:3"><em class="rl">X4</em><div class="c" style="--v:.448"><i></i><span>0.448</span></div><div class="c" style="--v:.432"><i></i><span>0.432</span></div><div class="c" style="--v:.438"><i></i><span>0.438</span></div><div class="c" style="--v:.409"><i></i><span>0.409</span><em>X4</em></div></div>
<div class="r" style="--i:4"><em class="rl">X5</em><div class="c" style="--v:.431"><i></i><span>0.431</span></div><div class="c" style="--v:.351"><i></i><span>0.351</span></div><div class="c" style="--v:.427"><i></i><span>0.427</span></div><div class="c" style="--v:.568"><i></i><span>0.568</span></div><div class="c" style="--v:.312"><i></i><span>0.312</span><em>X5</em></div></div>
<div class="r" style="--i:5"><em class="rl">X6</em><div class="c" style="--v:.504"><i></i><span>0.504</span></div><div class="c" style="--v:.414"><i></i><span>0.414</span></div><div class="c" style="--v:.498"><i></i><span>0.498</span></div><div class="c" style="--v:.566"><i></i><span>0.566</span></div><div class="c" style="--v:.466"><i></i><span>0.466</span></div><div class="c" style="--v:.357"><i></i><span>0.357</span><em>X6</em></div></div>
<div class="r" style="--i:6"><em class="rl">X7</em><div class="c" style="--v:.192"><i></i><span>0.192</span></div><div class="c" style="--v:.073"><i></i><span>0.073</span></div><div class="c" style="--v:.265"><i></i><span>0.265</span></div><div class="c" style="--v:.418"><i></i><span>0.418</span></div><div class="c" style="--v:.336"><i></i><span>0.336</span></div><div class="c" style="--v:.384"><i></i><span>0.384</span></div><div class="c" style="--v:.032"><i></i><span>0.032</span><em>X7</em></div></div>
<div class="r" style="--i:7"><em class="rl">X8</em><div class="c" style="--v:.150"><i></i><span>0.150</span></div><div class="c" style="--v:.033"><i></i><span>0.033</span></div><div class="c" style="--v:.230"><i></i><span>0.230</span></div><div class="c" style="--v:.414"><i></i><span>0.414</span></div><div class="c" style="--v:.319"><i></i><span>0.319</span></div><div class="c" style="--v:.362"><i></i><span>0.362</span></div><div class="c" style="--v:.041"><i></i><span>0.041</span></div><div class="c" style="--v:.011"><i></i><span>0.011</span><em>X8</em></div></div>
<div class="r" style="--i:8"><em class="rl">X9</em><div class="c" style="--v:.161"><i></i><span>0.161</span></div><div class="c" style="--v:.041"><i></i><span>0.041</span></div><div class="c" style="--v:.235"><i></i><span>0.235</span></div><div class="c" style="--v:.417"><i></i><span>0.417</span></div><div class="c" style="--v:.337"><i></i><span>0.337</span></div><div class="c" style="--v:.375"><i></i><span>0.375</span></div><div class="c" style="--v:.048"><i></i><span>0.048</span></div><div class="c" style="--v:.024"><i></i><span>0.024</span></div><div class="c" style="--v:.022"><i></i><span>0.022</span><em>X9</em></div></div>
<div class="ql"><i>q</i>-value</div>
<div class="cb"><u>0.0</u><u>0.1</u><u>0.2</u><u>0.3</u><u>0.4</u><u>0.5</u><u>0.6</u><u>0.7</u><u>0.8</u><u>0.9</u><u>1.0</u></div>
</div>

<!-- (k) -->
<div class="p B" style="left:0;top:3238.4px">
<div class="t" style="left:65.4px">(k) Region II in 2022</div>
<div class="r" style="--i:0"><em class="rl">X1</em><div class="c" style="--v:.045"><i></i><span>0.045</span><em>X1</em></div></div>
<div class="r" style="--i:1"><em class="rl">X2</em><div class="c" style="--v:.102"><i></i><span>0.102</span></div><div class="c" style="--v:.042"><i></i><span>0.042</span><em>X2</em></div></div>
<div class="r" style="--i:2"><em class="rl">X3</em><div class="c" style="--v:.323"><i></i><span>0.323</span></div><div class="c" style="--v:.302"><i></i><span>0.302</span></div><div class="c" style="--v:.260"><i></i><span>0.260</span><em>X3</em></div></div>
<div class="r" style="--i:3"><em class="rl">X4</em><div class="c" style="--v:.550"><i></i><span>0.550</span></div><div class="c" style="--v:.529"><i></i><span>0.529</span></div><div class="c" style="--v:.580"><i></i><span>0.580</span></div><div class="c" style="--v:.503"><i></i><span>0.503</span><em>X4</em></div></div>
<div class="r" style="--i:4"><em class="rl">X5</em><div class="c" style="--v:.083"><i></i><span>0.083</span></div><div class="c" style="--v:.091"><i></i><span>0.091</span></div><div class="c" style="--v:.326"><i></i><span>0.326</span></div><div class="c" style="--v:.548"><i></i><span>0.548</span></div><div class="c" style="--v:.026"><i></i><span>0.026</span><em>X5</em></div></div>
<div class="r" style="--i:5"><em class="rl">X6</em><div class="c" style="--v:.415"><i></i><span>0.415</span></div><div class="c" style="--v:.399"><i></i><span>0.399</span></div><div class="c" style="--v:.487"><i></i><span>0.487</span></div><div class="c" style="--v:.613"><i></i><span>0.613</span></div><div class="c" style="--v:.374"><i></i><span>0.374</span></div><div class="c" style="--v:.346"><i></i><span>0.346</span><em>X6</em></div></div>
<div class="r" style="--i:6"><em class="rl">X7</em><div class="c" style="--v:.263"><i></i><span>0.263</span></div><div class="c" style="--v:.248"><i></i><span>0.248</span></div><div class="c" style="--v:.367"><i></i><span>0.367</span></div><div class="c" style="--v:.563"><i></i><span>0.563</span></div><div class="c" style="--v:.253"><i></i><span>0.253</span></div><div class="c" style="--v:.392"><i></i><span>0.392</span></div><div class="c" style="--v:.216"><i></i><span>0.216</span><em>X7</em></div></div>
<div class="r" style="--i:7"><em class="rl">X8</em><div class="c" style="--v:.069"><i></i><span>0.069</span></div><div class="c" style="--v:.071"><i></i><span>0.071</span></div><div class="c" style="--v:.291"><i></i><span>0.291</span></div><div class="c" style="--v:.522"><i></i><span>0.522</span></div><div class="c" style="--v:.054"><i></i><span>0.054</span></div><div class="c" style="--v:.366"><i></i><span>0.366</span></div><div class="c" style="--v:.237"><i></i><span>0.237</span></div><div class="c" style="--v:.019"><i></i><span>0.019</span><em>X8</em></div></div>
<div class="r" style="--i:8"><em class="rl">X9</em><div class="c" style="--v:.050"><i></i><span>0.050</span></div><div class="c" style="--v:.045"><i></i><span>0.045</span></div><div class="c" style="--v:.267"><i></i><span>0.267</span></div><div class="c" style="--v:.506"><i></i><span>0.506</span></div><div class="c" style="--v:.033"><i></i><span>0.033</span></div><div class="c" style="--v:.355"><i></i><span>0.355</span></div><div class="c" style="--v:.222"><i></i><span>0.222</span></div><div class="c" style="--v:.028"><i></i><span>0.028</span></div><div class="c" style="--v:.001"><i></i><span>0.001</span><em>X9</em></div></div>
<div class="ql"><i>q</i>-value</div>
<div class="cb"><u>0.0</u><u>0.1</u><u>0.2</u><u>0.3</u><u>0.4</u><u>0.5</u><u>0.6</u><u>0.7</u><u>0.8</u><u>0.9</u><u>1.0</u></div>
</div>

<!-- (l) -->
<div class="p B" style="left:598px;top:3238.4px">
<div class="t" style="left:52.6px">(l) Region III in 2022</div>
<div class="r" style="--i:0"><em class="rl">X1</em><div class="c" style="--v:.029"><i></i><span>0.029</span><em>X1</em></div></div>
<div class="r" style="--i:1"><em class="rl">X2</em><div class="c" style="--v:.082"><i></i><span>0.082</span></div><div class="c" style="--v:.016"><i></i><span>0.016</span><em>X2</em></div></div>
<div class="r" style="--i:2"><em class="rl">X3</em><div class="c" style="--v:.133"><i></i><span>0.133</span></div><div class="c" style="--v:.141"><i></i><span>0.141</span></div><div class="c" style="--v:.105"><i></i><span>0.105</span><em>X3</em></div></div>
<div class="r" style="--i:3"><em class="rl">X4</em><div class="c" style="--v:.529"><i></i><span>0.529</span></div><div class="c" style="--v:.530"><i></i><span>0.530</span></div><div class="c" style="--v:.556"><i></i><span>0.556</span></div><div class="c" style="--v:.497"><i></i><span>0.497</span><em>X4</em></div></div>
<div class="r" style="--i:4"><em class="rl">X5</em><div class="c" style="--v:.347"><i></i><span>0.347</span></div><div class="c" style="--v:.350"><i></i><span>0.350</span></div><div class="c" style="--v:.409"><i></i><span>0.409</span></div><div class="c" style="--v:.650"><i></i><span>0.650</span></div><div class="c" style="--v:.327"><i></i><span>0.327</span><em>X5</em></div></div>
<div class="r" style="--i:5"><em class="rl">X6</em><div class="c" style="--v:.342"><i></i><span>0.342</span></div><div class="c" style="--v:.338"><i></i><span>0.338</span></div><div class="c" style="--v:.350"><i></i><span>0.350</span></div><div class="c" style="--v:.533"><i></i><span>0.533</span></div><div class="c" style="--v:.561"><i></i><span>0.561</span></div><div class="c" style="--v:.283"><i></i><span>0.283</span><em>X6</em></div></div>
<div class="r" style="--i:6"><em class="rl">X7</em><div class="c" style="--v:.284"><i></i><span>0.284</span></div><div class="c" style="--v:.281"><i></i><span>0.281</span></div><div class="c" style="--v:.362"><i></i><span>0.362</span></div><div class="c" style="--v:.559"><i></i><span>0.559</span></div><div class="c" style="--v:.452"><i></i><span>0.452</span></div><div class="c" style="--v:.400"><i></i><span>0.400</span></div><div class="c" style="--v:.259"><i></i><span>0.259</span><em>X7</em></div></div>
<div class="r" style="--i:7"><em class="rl">X8</em><div class="c" style="--v:.045"><i></i><span>0.045</span></div><div class="c" style="--v:.046"><i></i><span>0.046</span></div><div class="c" style="--v:.123"><i></i><span>0.123</span></div><div class="c" style="--v:.514"><i></i><span>0.514</span></div><div class="c" style="--v:.349"><i></i><span>0.349</span></div><div class="c" style="--v:.305"><i></i><span>0.305</span></div><div class="c" style="--v:.273"><i></i><span>0.273</span></div><div class="c" style="--v:.009"><i></i><span>0.009</span><em>X8</em></div></div>
<div class="r" style="--i:8"><em class="rl">X9</em><div class="c" style="--v:.046"><i></i><span>0.046</span></div><div class="c" style="--v:.032"><i></i><span>0.032</span></div><div class="c" style="--v:.123"><i></i><span>0.123</span></div><div class="c" style="--v:.506"><i></i><span>0.506</span></div><div class="c" style="--v:.337"><i></i><span>0.337</span></div><div class="c" style="--v:.304"><i></i><span>0.304</span></div><div class="c" style="--v:.273"><i></i><span>0.273</span></div><div class="c" style="--v:.029"><i></i><span>0.029</span></div><div class="c" style="--v:.009"><i></i><span>0.009</span><em>X9</em></div></div>
<div class="ql"><i>q</i>-value</div>
<div class="cb"><u>0.0</u><u>0.1</u><u>0.2</u><u>0.3</u><u>0.4</u><u>0.5</u><u>0.6</u><u>0.7</u><u>0.8</u><u>0.9</u><u>1.0</u></div>
</div>

</body></html>
